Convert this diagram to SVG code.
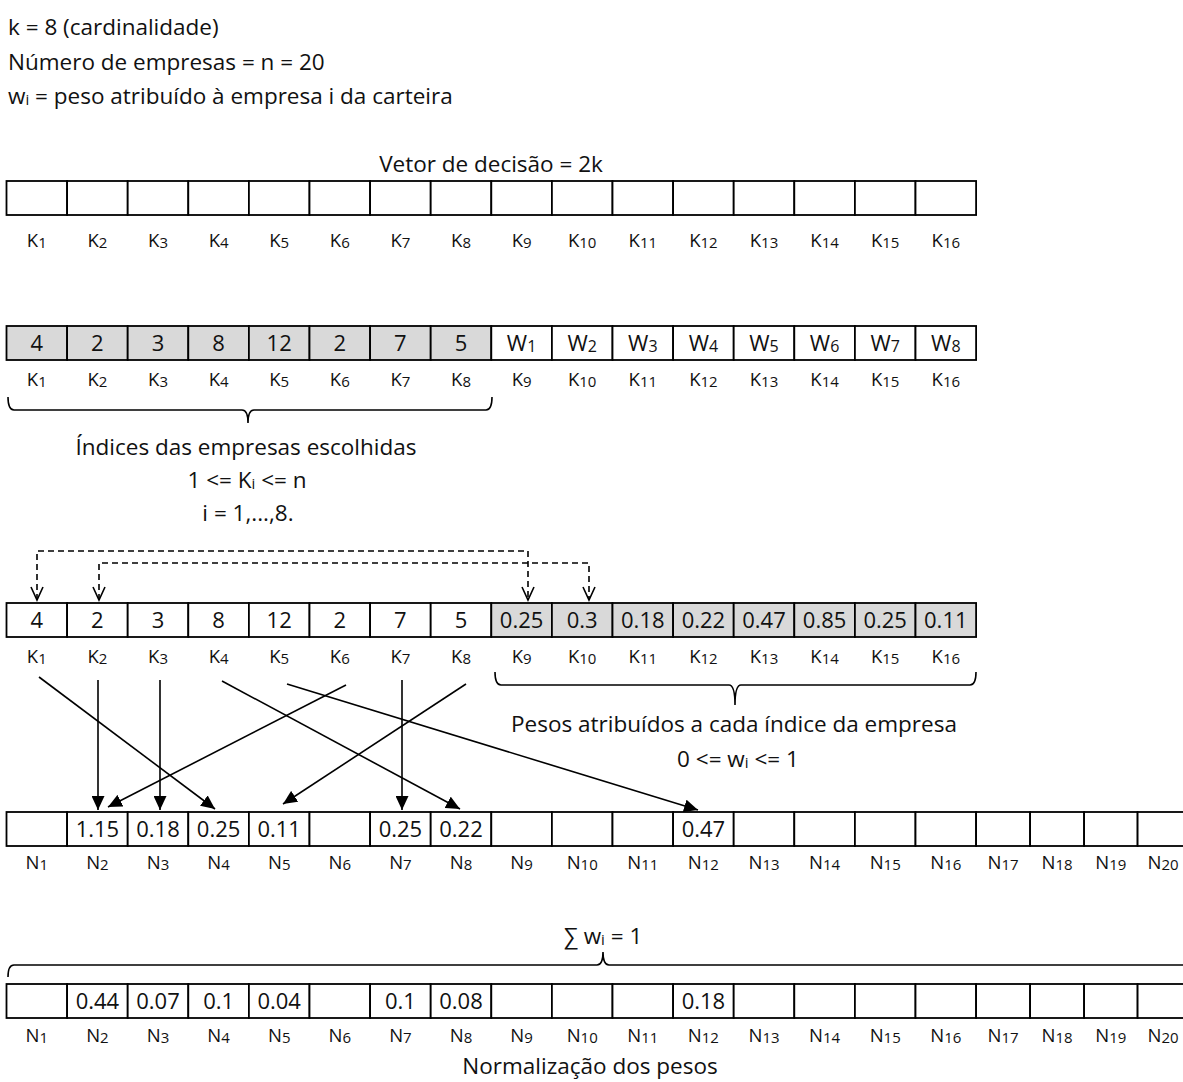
<svg xmlns="http://www.w3.org/2000/svg" width="1183" height="1082" viewBox="0 0 1183 1082">
<style>
text{font-family:"Open Sans","DejaVu Sans",sans-serif;fill:#111}
.t{font-size:22.5px}
.v{font-size:22px;text-anchor:middle}
.l{font-size:18.5px;text-anchor:middle}
.s{font-size:15px}
.c{fill:#fff;stroke:#000;stroke-width:1.8}
.g{fill:#d9d9d9;stroke:#000;stroke-width:1.8}
.br{fill:none;stroke:#000;stroke-width:1.6}
.dash{fill:none;stroke:#000;stroke-width:1.6;stroke-dasharray:6 4}
.arr{fill:none;stroke:#000;stroke-width:1.6}
.mid{text-anchor:middle}
</style>
<defs>
<marker id="solid" markerUnits="userSpaceOnUse" markerWidth="15" markerHeight="13" refX="14" refY="6.5" orient="auto">
<path d="M0,0 L14,6.5 L0,13 z" fill="#000"/>
</marker>
<marker id="open" markerUnits="userSpaceOnUse" markerWidth="16" markerHeight="16" refX="14" refY="7" orient="auto-start-reverse">
<path d="M1,1 L14,7 L1,13" fill="none" stroke="#000" stroke-width="1.6"/>
</marker>
</defs>

<g id="header">
<text class="t" x="8" y="35">k = 8 (cardinalidade)</text>
<text class="t" x="8" y="70">Número de empresas = n = 20</text>
<text class="t" x="8" y="104">w<tspan font-size="15" dy="1">i</tspan><tspan dy="-1"> = peso atribuído à empresa i da carteira</tspan></text>
</g>

<g id="row1">
<text class="t mid" x="491" y="172">Vetor de decisão = 2k</text>
<rect class="c" x="6.5" y="181" width="60.6" height="34"/>
<rect class="c" x="67.1" y="181" width="60.6" height="34"/>
<rect class="c" x="127.7" y="181" width="60.6" height="34"/>
<rect class="c" x="188.3" y="181" width="60.6" height="34"/>
<rect class="c" x="248.9" y="181" width="60.6" height="34"/>
<rect class="c" x="309.5" y="181" width="60.6" height="34"/>
<rect class="c" x="370.1" y="181" width="60.6" height="34"/>
<rect class="c" x="430.7" y="181" width="60.6" height="34"/>
<rect class="c" x="491.3" y="181" width="60.6" height="34"/>
<rect class="c" x="551.9" y="181" width="60.6" height="34"/>
<rect class="c" x="612.5" y="181" width="60.6" height="34"/>
<rect class="c" x="673.1" y="181" width="60.6" height="34"/>
<rect class="c" x="733.7" y="181" width="60.6" height="34"/>
<rect class="c" x="794.3" y="181" width="60.6" height="34"/>
<rect class="c" x="854.9" y="181" width="60.6" height="34"/>
<rect class="c" x="915.5" y="181" width="60.6" height="34"/>
<g class="labels">
<text class="l" x="36.8" y="247">K<tspan class="s" dy="1">1</tspan></text>
<text class="l" x="97.4" y="247">K<tspan class="s" dy="1">2</tspan></text>
<text class="l" x="158" y="247">K<tspan class="s" dy="1">3</tspan></text>
<text class="l" x="218.6" y="247">K<tspan class="s" dy="1">4</tspan></text>
<text class="l" x="279.2" y="247">K<tspan class="s" dy="1">5</tspan></text>
<text class="l" x="339.8" y="247">K<tspan class="s" dy="1">6</tspan></text>
<text class="l" x="400.4" y="247">K<tspan class="s" dy="1">7</tspan></text>
<text class="l" x="461" y="247">K<tspan class="s" dy="1">8</tspan></text>
<text class="l" x="521.6" y="247">K<tspan class="s" dy="1">9</tspan></text>
<text class="l" x="582.2" y="247">K<tspan class="s" dy="1">10</tspan></text>
<text class="l" x="642.8" y="247">K<tspan class="s" dy="1">11</tspan></text>
<text class="l" x="703.4" y="247">K<tspan class="s" dy="1">12</tspan></text>
<text class="l" x="764" y="247">K<tspan class="s" dy="1">13</tspan></text>
<text class="l" x="824.6" y="247">K<tspan class="s" dy="1">14</tspan></text>
<text class="l" x="885.2" y="247">K<tspan class="s" dy="1">15</tspan></text>
<text class="l" x="945.8" y="247">K<tspan class="s" dy="1">16</tspan></text>
</g>
</g>

<g id="row2">
<rect class="g" x="6.5" y="326" width="60.6" height="34"/>
<rect class="g" x="67.1" y="326" width="60.6" height="34"/>
<rect class="g" x="127.7" y="326" width="60.6" height="34"/>
<rect class="g" x="188.3" y="326" width="60.6" height="34"/>
<rect class="g" x="248.9" y="326" width="60.6" height="34"/>
<rect class="g" x="309.5" y="326" width="60.6" height="34"/>
<rect class="g" x="370.1" y="326" width="60.6" height="34"/>
<rect class="g" x="430.7" y="326" width="60.6" height="34"/>
<rect class="c" x="491.3" y="326" width="60.6" height="34"/>
<rect class="c" x="551.9" y="326" width="60.6" height="34"/>
<rect class="c" x="612.5" y="326" width="60.6" height="34"/>
<rect class="c" x="673.1" y="326" width="60.6" height="34"/>
<rect class="c" x="733.7" y="326" width="60.6" height="34"/>
<rect class="c" x="794.3" y="326" width="60.6" height="34"/>
<rect class="c" x="854.9" y="326" width="60.6" height="34"/>
<rect class="c" x="915.5" y="326" width="60.6" height="34"/>
<text class="v" x="36.8" y="351">4</text>
<text class="v" x="97.4" y="351">2</text>
<text class="v" x="158" y="351">3</text>
<text class="v" x="218.6" y="351">8</text>
<text class="v" x="279.2" y="351">12</text>
<text class="v" x="339.8" y="351">2</text>
<text class="v" x="400.4" y="351">7</text>
<text class="v" x="461" y="351">5</text>
<text class="v" x="521.6" y="351">W<tspan font-size="16" dy="1">1</tspan></text>
<text class="v" x="582.2" y="351">W<tspan font-size="16" dy="1">2</tspan></text>
<text class="v" x="642.8" y="351">W<tspan font-size="16" dy="1">3</tspan></text>
<text class="v" x="703.4" y="351">W<tspan font-size="16" dy="1">4</tspan></text>
<text class="v" x="764" y="351">W<tspan font-size="16" dy="1">5</tspan></text>
<text class="v" x="824.6" y="351">W<tspan font-size="16" dy="1">6</tspan></text>
<text class="v" x="885.2" y="351">W<tspan font-size="16" dy="1">7</tspan></text>
<text class="v" x="945.8" y="351">W<tspan font-size="16" dy="1">8</tspan></text>
<g class="labels">
<text class="l" x="36.8" y="386">K<tspan class="s" dy="1">1</tspan></text>
<text class="l" x="97.4" y="386">K<tspan class="s" dy="1">2</tspan></text>
<text class="l" x="158" y="386">K<tspan class="s" dy="1">3</tspan></text>
<text class="l" x="218.6" y="386">K<tspan class="s" dy="1">4</tspan></text>
<text class="l" x="279.2" y="386">K<tspan class="s" dy="1">5</tspan></text>
<text class="l" x="339.8" y="386">K<tspan class="s" dy="1">6</tspan></text>
<text class="l" x="400.4" y="386">K<tspan class="s" dy="1">7</tspan></text>
<text class="l" x="461" y="386">K<tspan class="s" dy="1">8</tspan></text>
<text class="l" x="521.6" y="386">K<tspan class="s" dy="1">9</tspan></text>
<text class="l" x="582.2" y="386">K<tspan class="s" dy="1">10</tspan></text>
<text class="l" x="642.8" y="386">K<tspan class="s" dy="1">11</tspan></text>
<text class="l" x="703.4" y="386">K<tspan class="s" dy="1">12</tspan></text>
<text class="l" x="764" y="386">K<tspan class="s" dy="1">13</tspan></text>
<text class="l" x="824.6" y="386">K<tspan class="s" dy="1">14</tspan></text>
<text class="l" x="885.2" y="386">K<tspan class="s" dy="1">15</tspan></text>
<text class="l" x="945.8" y="386">K<tspan class="s" dy="1">16</tspan></text>
</g>
</g>

<g id="indices-brace">
<path class="br" d="M8,397 Q8,410 14,410 L242,410 Q248,410 248,423 Q248,410 254,410 L486,410 Q492,410 492,397"/>
<text class="t mid" x="246" y="455">Índices das empresas escolhidas</text>
<text class="t mid" x="247" y="488">1 &lt;= K<tspan font-size="15" dy="1">i</tspan><tspan dy="-1"> &lt;= n</tspan></text>
<text class="t mid" x="248" y="521">i = 1,...,8.</text>
</g>

<g id="row3">
<rect class="c" x="6.5" y="603" width="60.6" height="34"/>
<rect class="c" x="67.1" y="603" width="60.6" height="34"/>
<rect class="c" x="127.7" y="603" width="60.6" height="34"/>
<rect class="c" x="188.3" y="603" width="60.6" height="34"/>
<rect class="c" x="248.9" y="603" width="60.6" height="34"/>
<rect class="c" x="309.5" y="603" width="60.6" height="34"/>
<rect class="c" x="370.1" y="603" width="60.6" height="34"/>
<rect class="c" x="430.7" y="603" width="60.6" height="34"/>
<rect class="g" x="491.3" y="603" width="60.6" height="34"/>
<rect class="g" x="551.9" y="603" width="60.6" height="34"/>
<rect class="g" x="612.5" y="603" width="60.6" height="34"/>
<rect class="g" x="673.1" y="603" width="60.6" height="34"/>
<rect class="g" x="733.7" y="603" width="60.6" height="34"/>
<rect class="g" x="794.3" y="603" width="60.6" height="34"/>
<rect class="g" x="854.9" y="603" width="60.6" height="34"/>
<rect class="g" x="915.5" y="603" width="60.6" height="34"/>
<text class="v" x="36.8" y="628">4</text>
<text class="v" x="97.4" y="628">2</text>
<text class="v" x="158" y="628">3</text>
<text class="v" x="218.6" y="628">8</text>
<text class="v" x="279.2" y="628">12</text>
<text class="v" x="339.8" y="628">2</text>
<text class="v" x="400.4" y="628">7</text>
<text class="v" x="461" y="628">5</text>
<text class="v" x="521.6" y="628">0.25</text>
<text class="v" x="582.2" y="628">0.3</text>
<text class="v" x="642.8" y="628">0.18</text>
<text class="v" x="703.4" y="628">0.22</text>
<text class="v" x="764" y="628">0.47</text>
<text class="v" x="824.6" y="628">0.85</text>
<text class="v" x="885.2" y="628">0.25</text>
<text class="v" x="945.8" y="628">0.11</text>
<g class="labels">
<text class="l" x="36.8" y="663">K<tspan class="s" dy="1">1</tspan></text>
<text class="l" x="97.4" y="663">K<tspan class="s" dy="1">2</tspan></text>
<text class="l" x="158" y="663">K<tspan class="s" dy="1">3</tspan></text>
<text class="l" x="218.6" y="663">K<tspan class="s" dy="1">4</tspan></text>
<text class="l" x="279.2" y="663">K<tspan class="s" dy="1">5</tspan></text>
<text class="l" x="339.8" y="663">K<tspan class="s" dy="1">6</tspan></text>
<text class="l" x="400.4" y="663">K<tspan class="s" dy="1">7</tspan></text>
<text class="l" x="461" y="663">K<tspan class="s" dy="1">8</tspan></text>
<text class="l" x="521.6" y="663">K<tspan class="s" dy="1">9</tspan></text>
<text class="l" x="582.2" y="663">K<tspan class="s" dy="1">10</tspan></text>
<text class="l" x="642.8" y="663">K<tspan class="s" dy="1">11</tspan></text>
<text class="l" x="703.4" y="663">K<tspan class="s" dy="1">12</tspan></text>
<text class="l" x="764" y="663">K<tspan class="s" dy="1">13</tspan></text>
<text class="l" x="824.6" y="663">K<tspan class="s" dy="1">14</tspan></text>
<text class="l" x="885.2" y="663">K<tspan class="s" dy="1">15</tspan></text>
<text class="l" x="945.8" y="663">K<tspan class="s" dy="1">16</tspan></text>
</g>
</g>

<g id="pesos-brace">
<path class="br" d="M495,672 Q495,685 501,685 L729,685 Q735,685 735,705 Q735,685 741,685 L970,685 Q976,685 976,672"/>
<text class="t mid" x="734" y="732">Pesos atribuídos a cada índice da empresa</text>
<text class="t mid" x="738" y="767">0 &lt;= w<tspan font-size="15" dy="1">i</tspan><tspan dy="-1"> &lt;= 1</tspan></text>
</g>

<g id="row4">
<rect class="c" x="6.5" y="812" width="60.6" height="34"/>
<rect class="c" x="67.1" y="812" width="60.6" height="34"/>
<rect class="c" x="127.7" y="812" width="60.6" height="34"/>
<rect class="c" x="188.3" y="812" width="60.6" height="34"/>
<rect class="c" x="248.9" y="812" width="60.6" height="34"/>
<rect class="c" x="309.5" y="812" width="60.6" height="34"/>
<rect class="c" x="370.1" y="812" width="60.6" height="34"/>
<rect class="c" x="430.7" y="812" width="60.6" height="34"/>
<rect class="c" x="491.3" y="812" width="60.6" height="34"/>
<rect class="c" x="551.9" y="812" width="60.6" height="34"/>
<rect class="c" x="612.5" y="812" width="60.6" height="34"/>
<rect class="c" x="673.1" y="812" width="60.6" height="34"/>
<rect class="c" x="733.7" y="812" width="60.6" height="34"/>
<rect class="c" x="794.3" y="812" width="60.6" height="34"/>
<rect class="c" x="854.9" y="812" width="60.6" height="34"/>
<rect class="c" x="915.5" y="812" width="60.6" height="34"/>
<rect class="c" x="976.1" y="812" width="54" height="34"/>
<rect class="c" x="1030.1" y="812" width="54" height="34"/>
<rect class="c" x="1084.1" y="812" width="53.5" height="34"/>
<rect class="c" x="1137.6" y="812" width="60" height="34"/>
<text class="v" x="97.4" y="837">1.15</text>
<text class="v" x="158" y="837">0.18</text>
<text class="v" x="218.6" y="837">0.25</text>
<text class="v" x="279.2" y="837">0.11</text>
<text class="v" x="400.4" y="837">0.25</text>
<text class="v" x="461" y="837">0.22</text>
<text class="v" x="703.4" y="837">0.47</text>
<g class="labels">
<text class="l" x="36.8" y="869">N<tspan class="s" dy="1">1</tspan></text>
<text class="l" x="97.4" y="869">N<tspan class="s" dy="1">2</tspan></text>
<text class="l" x="158" y="869">N<tspan class="s" dy="1">3</tspan></text>
<text class="l" x="218.6" y="869">N<tspan class="s" dy="1">4</tspan></text>
<text class="l" x="279.2" y="869">N<tspan class="s" dy="1">5</tspan></text>
<text class="l" x="339.8" y="869">N<tspan class="s" dy="1">6</tspan></text>
<text class="l" x="400.4" y="869">N<tspan class="s" dy="1">7</tspan></text>
<text class="l" x="461" y="869">N<tspan class="s" dy="1">8</tspan></text>
<text class="l" x="521.6" y="869">N<tspan class="s" dy="1">9</tspan></text>
<text class="l" x="582.2" y="869">N<tspan class="s" dy="1">10</tspan></text>
<text class="l" x="642.8" y="869">N<tspan class="s" dy="1">11</tspan></text>
<text class="l" x="703.4" y="869">N<tspan class="s" dy="1">12</tspan></text>
<text class="l" x="764" y="869">N<tspan class="s" dy="1">13</tspan></text>
<text class="l" x="824.6" y="869">N<tspan class="s" dy="1">14</tspan></text>
<text class="l" x="885.2" y="869">N<tspan class="s" dy="1">15</tspan></text>
<text class="l" x="945.8" y="869">N<tspan class="s" dy="1">16</tspan></text>
<text class="l" x="1003" y="869">N<tspan class="s" dy="1">17</tspan></text>
<text class="l" x="1057" y="869">N<tspan class="s" dy="1">18</tspan></text>
<text class="l" x="1110.8" y="869">N<tspan class="s" dy="1">19</tspan></text>
<text class="l" x="1163" y="869">N<tspan class="s" dy="1">20</tspan></text>
</g>
</g>

<g id="soma-brace">
<text class="t mid" x="603" y="944">∑ w<tspan font-size="15" dy="1">i</tspan><tspan dy="-1"> = 1</tspan></text>
<path class="br" d="M8,977 Q8,965 14,965 L597,965 Q603,965 603,952 Q603,965 609,965 L1190,965"/>
</g>

<g id="row5">
<rect class="c" x="6.5" y="984" width="60.6" height="34"/>
<rect class="c" x="67.1" y="984" width="60.6" height="34"/>
<rect class="c" x="127.7" y="984" width="60.6" height="34"/>
<rect class="c" x="188.3" y="984" width="60.6" height="34"/>
<rect class="c" x="248.9" y="984" width="60.6" height="34"/>
<rect class="c" x="309.5" y="984" width="60.6" height="34"/>
<rect class="c" x="370.1" y="984" width="60.6" height="34"/>
<rect class="c" x="430.7" y="984" width="60.6" height="34"/>
<rect class="c" x="491.3" y="984" width="60.6" height="34"/>
<rect class="c" x="551.9" y="984" width="60.6" height="34"/>
<rect class="c" x="612.5" y="984" width="60.6" height="34"/>
<rect class="c" x="673.1" y="984" width="60.6" height="34"/>
<rect class="c" x="733.7" y="984" width="60.6" height="34"/>
<rect class="c" x="794.3" y="984" width="60.6" height="34"/>
<rect class="c" x="854.9" y="984" width="60.6" height="34"/>
<rect class="c" x="915.5" y="984" width="60.6" height="34"/>
<rect class="c" x="976.1" y="984" width="54" height="34"/>
<rect class="c" x="1030.1" y="984" width="54" height="34"/>
<rect class="c" x="1084.1" y="984" width="53.5" height="34"/>
<rect class="c" x="1137.6" y="984" width="60" height="34"/>
<text class="v" x="97.4" y="1009">0.44</text>
<text class="v" x="158" y="1009">0.07</text>
<text class="v" x="218.6" y="1009">0.1</text>
<text class="v" x="279.2" y="1009">0.04</text>
<text class="v" x="400.4" y="1009">0.1</text>
<text class="v" x="461" y="1009">0.08</text>
<text class="v" x="703.4" y="1009">0.18</text>
<g class="labels">
<text class="l" x="36.8" y="1042">N<tspan class="s" dy="1">1</tspan></text>
<text class="l" x="97.4" y="1042">N<tspan class="s" dy="1">2</tspan></text>
<text class="l" x="158" y="1042">N<tspan class="s" dy="1">3</tspan></text>
<text class="l" x="218.6" y="1042">N<tspan class="s" dy="1">4</tspan></text>
<text class="l" x="279.2" y="1042">N<tspan class="s" dy="1">5</tspan></text>
<text class="l" x="339.8" y="1042">N<tspan class="s" dy="1">6</tspan></text>
<text class="l" x="400.4" y="1042">N<tspan class="s" dy="1">7</tspan></text>
<text class="l" x="461" y="1042">N<tspan class="s" dy="1">8</tspan></text>
<text class="l" x="521.6" y="1042">N<tspan class="s" dy="1">9</tspan></text>
<text class="l" x="582.2" y="1042">N<tspan class="s" dy="1">10</tspan></text>
<text class="l" x="642.8" y="1042">N<tspan class="s" dy="1">11</tspan></text>
<text class="l" x="703.4" y="1042">N<tspan class="s" dy="1">12</tspan></text>
<text class="l" x="764" y="1042">N<tspan class="s" dy="1">13</tspan></text>
<text class="l" x="824.6" y="1042">N<tspan class="s" dy="1">14</tspan></text>
<text class="l" x="885.2" y="1042">N<tspan class="s" dy="1">15</tspan></text>
<text class="l" x="945.8" y="1042">N<tspan class="s" dy="1">16</tspan></text>
<text class="l" x="1003" y="1042">N<tspan class="s" dy="1">17</tspan></text>
<text class="l" x="1057" y="1042">N<tspan class="s" dy="1">18</tspan></text>
<text class="l" x="1110.8" y="1042">N<tspan class="s" dy="1">19</tspan></text>
<text class="l" x="1163" y="1042">N<tspan class="s" dy="1">20</tspan></text>
</g>
<text class="t mid" x="590" y="1074">Normalização dos pesos</text>
</g>

<g id="connectors">
<path class="dash" d="M37,600 V551 H528 V600" marker-start="url(#open)" marker-end="url(#open)"/>
<path class="dash" d="M99,600 V563 H589 V600" marker-start="url(#open)" marker-end="url(#open)"/>
<line class="arr" x1="39" y1="677" x2="215" y2="809" marker-end="url(#solid)"/>
<line class="arr" x1="98" y1="680" x2="98" y2="810" marker-end="url(#solid)"/>
<line class="arr" x1="160" y1="680" x2="160" y2="810" marker-end="url(#solid)"/>
<line class="arr" x1="222" y1="681" x2="460" y2="809" marker-end="url(#solid)"/>
<line class="arr" x1="287" y1="684" x2="698" y2="810" marker-end="url(#solid)"/>
<line class="arr" x1="346" y1="685" x2="108" y2="807" marker-end="url(#solid)"/>
<line class="arr" x1="402" y1="680" x2="402" y2="810" marker-end="url(#solid)"/>
<line class="arr" x1="466" y1="684" x2="283" y2="804" marker-end="url(#solid)"/>
</g>
</svg>
